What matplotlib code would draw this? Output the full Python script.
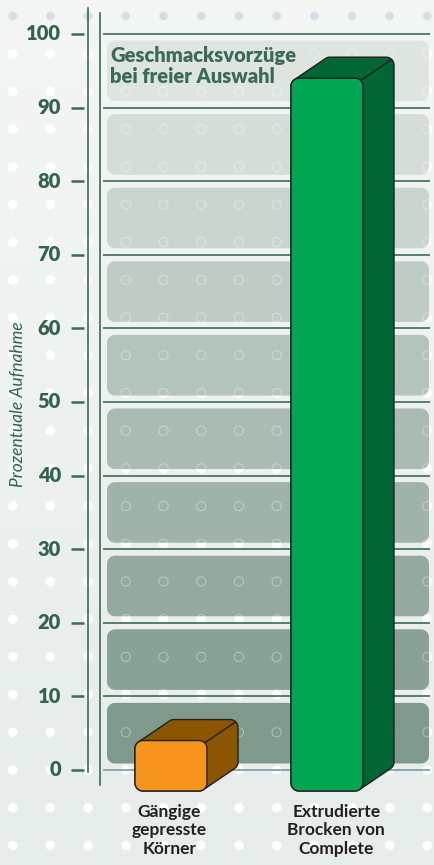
import numpy as np
import matplotlib.pyplot as plt
from matplotlib.colors import LinearSegmentedColormap

plt.rcParams['font.family'] = ['Lato', 'DejaVu Sans']

# data
categories = ['Gängige\ngepresste\nKörner', 'Extrudierte\nBrocken von\nComplete']
values = [4, 94]
front_colors = ['#f7941d', '#00a651']
side_colors = ['#8c5600', '#006633']
label_dx = [-0.01, 0.06]
yticks = [0, 10, 20, 30, 40, 50, 60, 70, 80, 90, 100]
title = 'Geschmacksvorzüge\nbei freier Auswahl'
ylabel = 'Prozentuale Aufnahme'

green_txt = '#33634d'
line_col = '#3c6b56'

W, H = 434, 865
PX_Y = 7.36    # pixels per percent
PX_X = 156.0   # pixels per category step
X0_PX = 171.0
Y0_PX = 770.0


def xd(px):
    return (px - X0_PX) / PX_X


def yd(py):
    return (Y0_PX - py) / PX_Y


def rrect(x0, y0, w, h, rx, ry, n=14):
    t = np.linspace(0, np.pi / 2, n)
    cx = [x0 + w - rx, x0 + rx, x0 + rx, x0 + w - rx]
    cy = [y0 + h - ry, y0 + h - ry, y0 + ry, y0 + ry]
    xs, ys = [], []
    for i in range(4):
        a = t + i * np.pi / 2
        xs.append(cx[i] + rx * np.cos(a))
        ys.append(cy[i] + ry * np.sin(a))
    return np.concatenate(xs), np.concatenate(ys)


def hull(x, y):
    pts = sorted(set(zip(np.round(x, 9), np.round(y, 9))))

    def cross(o, a, b):
        return (a[0] - o[0]) * (b[1] - o[1]) - (a[1] - o[1]) * (b[0] - o[0])

    lower, upper = [], []
    for p in pts:
        while len(lower) >= 2 and cross(lower[-2], lower[-1], p) <= 0:
            lower.pop()
        lower.append(p)
    for p in reversed(pts):
        while len(upper) >= 2 and cross(upper[-2], upper[-1], p) <= 0:
            upper.pop()
        upper.append(p)
    h = np.array(lower[:-1] + upper[:-1])
    return h[:, 0], h[:, 1]


fig = plt.figure(figsize=(W / 100, H / 100), dpi=100)
ax = fig.add_axes([0, 0, 1, 1])

# background
bg = LinearSegmentedColormap.from_list('bg', ['#f3f6f5', '#e6ecea'])
ax.imshow(np.linspace(0, 1, 256).reshape(-1, 1), extent=[xd(0), xd(W), yd(H), yd(0)],
          aspect='auto', cmap=bg, zorder=0)

# dot pattern
gx, gy = np.meshgrid(12.7 + 37.7 * np.arange(12), 16 + 37.7 * np.arange(23))
dot_cols = np.where(gy < 30, '#d3dee6', '#ffffff').ravel()
ax.scatter(xd(gx.ravel()), yd(gy.ravel()), s=44, c=dot_cols, lw=0, zorder=1)
ax.scatter(xd(gx.ravel()), yd(gy.ravel()), s=44, facecolors='none',
           edgecolors=(1, 1, 1, 0.45), lw=0.6, zorder=3)

# rounded bands
shades = LinearSegmentedColormap.from_list('s', ['#7f9a8c', '#dee5e1'])
inset = 6.5 / PX_Y
for k in range(len(yticks) - 1):
    lo, hi = yticks[k] + inset, yticks[k + 1] - inset
    px, py = rrect(xd(107), lo, xd(429) - xd(107), hi - lo, 8 / PX_X, 8 / PX_Y)
    ax.fill(px, py, color=shades(k / 9), lw=0, zorder=2)

# grid lines
ax.hlines(yticks[1:], xd(103), xd(430), color=line_col, lw=1.2, zorder=4)
ax.hlines(0, xd(103), xd(430), color='#7d98a6', lw=1.2, zorder=4)

# axis lines and ticks
ax.plot([xd(88), xd(88)], [yd(8), yd(772)], color=line_col, lw=1.2, zorder=4)
ax.plot([xd(100), xd(100)], [yd(13), yd(785)], color=line_col, lw=1.2, zorder=4)
ax.hlines(yticks, xd(71), xd(84), color=line_col, lw=1.8, zorder=4)
for t in yticks:
    ax.text(xd(61), t, str(t), ha='right', va='center', fontsize=14.5,
            fontweight='heavy', color=green_txt, zorder=7)

# 3d bars
bw = 72 / PX_X
dx, dy = 31 / PX_X, 21 / PX_Y
rx, ry = 8 / PX_X, 8 / PX_Y
c45 = np.cos(np.pi / 4)
for i, v in enumerate(values):
    x0, y0 = i - bw / 2, -dy
    fx, fy = rrect(x0, y0, bw, v + dy, rx, ry)
    hx, hy = hull(np.concatenate([fx, fx + dx]), np.concatenate([fy, fy + dy]))
    ax.fill(hx, hy, fc=side_colors[i], ec='#231f20', lw=1, zorder=5)
    cx = x0 + bw - rx + rx * c45
    cy = v - ry + ry * c45
    ax.plot([cx, cx + dx], [cy, cy + dy], color='#231f20', lw=1, zorder=5)
    ax.fill(fx, fy, fc=front_colors[i], ec='#231f20', lw=1, zorder=6)
    ax.text(i + label_dx[i], yd(804), categories[i], ha='center', va='top',
            fontsize=12.5, fontweight='bold', color='#231f20', linespacing=1.18, zorder=7)

ax.text(xd(110), yd(46), title, ha='left', va='top', fontsize=14.5, fontweight='heavy',
        color='#3b6b57', linespacing=1.12, zorder=7)
ax.text(xd(18), yd(404), ylabel, rotation=90, ha='center', va='center', fontsize=12.5,
        style='italic', color=green_txt, zorder=7)

ax.set_xlim(xd(0), xd(W))
ax.set_ylim(yd(H), yd(0))
ax.axis('off')

fig.savefig('out.png', dpi=100)
